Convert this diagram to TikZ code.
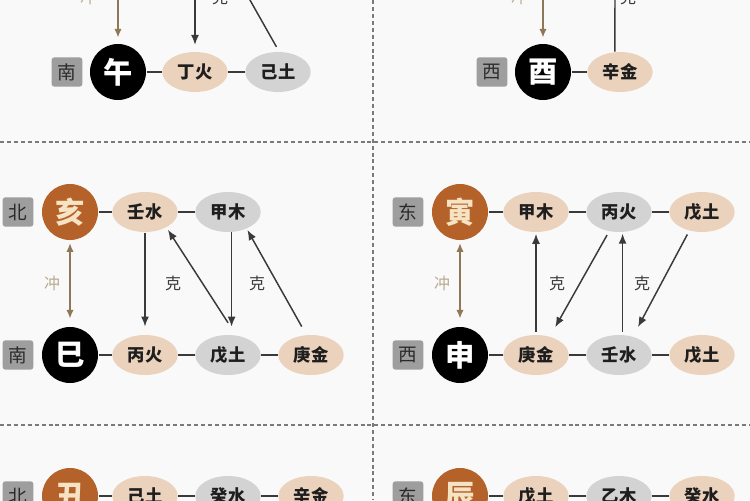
\documentclass[tikz,border=0pt]{standalone}
\usepackage{fontspec}
\newfontfamily\cjk{Noto Sans CJK SC}
\usetikzlibrary{arrows.meta,shapes.geometric}

\definecolor{clrbg}{HTML}{F9F9F9}
\definecolor{clrbox}{HTML}{9E9E9E}
\definecolor{clrboxtext}{HTML}{2B2B2B}
\definecolor{clrbrown}{HTML}{B4622A}
\definecolor{clrbrowntext}{HTML}{F6E3C4}
\definecolor{clrbeige}{HTML}{EBD2BC}
\definecolor{clrgrey}{HTML}{D3D3D3}
\definecolor{clrstemtext}{HTML}{1E1E1E}
\definecolor{clrchong}{HTML}{8E7857}
\definecolor{clrchongtext}{HTML}{B9AA90}
\definecolor{clrline}{HTML}{3A3A3A}
\definecolor{clrdash}{HTML}{7A7A7A}

\tikzset{every picture/.style={line width=0.75pt}}
\tikzset{
  dirbox/.style={fill=clrbox, rounded corners=2pt, minimum width=23pt, minimum height=22pt, inner sep=0pt, text=clrboxtext, font=\cjk\fontsize{14}{14}\selectfont},
  branchnode/.style={circle, minimum size=42pt, inner sep=0pt, font=\cjk\bfseries\fontsize{22}{22}\selectfont},
  blackbr/.style={branchnode, fill=black, text=white},
  brownbr/.style={branchnode, fill=clrbrown, text=clrbrowntext},
  stemnode/.style={ellipse, minimum width=49pt, minimum height=30pt, inner sep=0pt, text=clrstemtext, font=\cjk\bfseries\fontsize{13}{13}\selectfont},
  beigestem/.style={stemnode, fill=clrbeige},
  greystem/.style={stemnode, fill=clrgrey},
  joinline/.style={draw=clrline, line width=1.2pt},
  kearrow/.style={draw=clrline, line width=1.1pt, -{Latex[length=7.5pt,width=6pt]}},
  chongarrow/.style={draw=clrchong, line width=1.1pt, {Latex[length=6.5pt,width=5.5pt]}-{Latex[length=6.5pt,width=5.5pt]}},
  kelabel/.style={inner sep=0.75pt, text=clrline, font=\cjk\fontsize{12}{12}\selectfont},
  chonglabel/.style={inner sep=0.75pt, text=clrchongtext, font=\cjk\fontsize{12}{12}\selectfont},
  divider/.style={draw=clrdash, line width=0.9pt, dash pattern=on 3pt off 2.2pt}
}

\begin{document}
\begin{tikzpicture}[x=0.75pt,y=0.75pt,yscale=-1,xscale=1]
\useasboundingbox (0,0) rectangle (750,500);
\clip (0,0) rectangle (750,500);
\fill [clrbg] (0,0) rectangle (750,500);

%Dashed dividers
\draw [divider] (373,0) -- (373,500);
\draw [divider] (0,142) -- (750,142);
\draw [divider] (0,425) -- (750,425);

% Top left: wu row
\draw (67,72) node [dirbox] (dirnan1) {南};
\draw (118,72) node [blackbr] (wu) {午};
\draw (195,72) node [beigestem] (dinghuo1) {丁火};
\draw (278,72) node [greystem] (jitu1) {己土};
\coordinate (zi) at (118,-20);
\coordinate (keA) at (195,-20);
\coordinate (keB) at (233,-30);
\draw (88,-3) node [chonglabel] (chongA) {冲};
\draw (220,-3) node [kelabel] (keAlabel) {克};

%Straight Lines
\draw [joinline] (wu) -- (dinghuo1);
\draw [joinline] (dinghuo1) -- (jitu1);
\draw [chongarrow, shorten >=4.5pt] (zi) -- (wu);
\draw [kearrow, shorten >=5pt] (keA) -- (dinghuo1);
\draw [kearrow, shorten <=4pt] (jitu1.87) -- (keB);

% Top right: you row
\draw (492,72) node [dirbox] (dirxi1) {西};
\draw (543,72) node [blackbr] (you) {酉};
\draw (620,72) node [beigestem] (xinjin1) {辛金};
\coordinate (mao) at (543,-20);
\coordinate (keC) at (615,-30);
\draw (519,-3) node [chonglabel] (chongB) {冲};
\draw (628,-3) node [kelabel] (keClabel) {克};

%Straight Lines
\draw [joinline] (you) -- (xinjin1);
\draw [chongarrow, shorten >=4.5pt] (mao) -- (you);
\draw [kearrow] (xinjin1.104) -- (keC);

% Middle left: hai / si
\draw (18,212) node [dirbox] (dirbei1) {北};
\draw (70,212) node [brownbr] (hai) {亥};
\draw (145,212) node [beigestem] (renshui1) {壬水};
\draw (228,212) node [greystem] (jiamu1) {甲木};
\draw (18,355) node [dirbox] (dirnan2) {南};
\draw (70,355) node [blackbr] (si) {巳};
\draw (145,355) node [beigestem] (binghuo1) {丙火};
\draw (228,355) node [greystem] (wutu1) {戊土};
\draw (311,355) node [beigestem] (gengjin1) {庚金};
\draw (52,283) node [chonglabel] (chongC) {冲};
\draw (173,283) node [kelabel] (keD) {克};
\draw (257,283) node [kelabel] (keE) {克};

%Straight Lines
\draw [joinline] (hai) -- (renshui1);
\draw [joinline] (renshui1) -- (jiamu1);
\draw [joinline] (si) -- (binghuo1);
\draw [joinline] (binghuo1) -- (wutu1);
\draw [joinline] (wutu1) -- (gengjin1);
\draw [chongarrow, shorten <=2pt, shorten >=6pt] (hai) -- (si);
\draw [kearrow, shorten >=6pt] (renshui1.south) -- (binghuo1.north);
\draw [kearrow, shorten >=6pt] (jiamu1.-80) -- (wutu1.80);
\draw [kearrow, shorten <=11pt, shorten >=2pt] (wutu1.68) -- (renshui1.-36);
\draw [kearrow, shorten <=7pt, shorten >=1pt] (gengjin1.103) -- (jiamu1.-42);

% Middle right: yin / shen
\draw (408,212) node [dirbox] (dirdong1) {东};
\draw (460,212) node [brownbr] (yin) {寅};
\draw (536,212) node [beigestem] (jiamu2) {甲木};
\draw (619,212) node [greystem] (binghuo2) {丙火};
\draw (702,212) node [beigestem] (wutu2) {戊土};
\draw (408,355) node [dirbox] (dirxi2) {西};
\draw (460,355) node [blackbr] (shen) {申};
\draw (536,355) node [beigestem] (gengjin2) {庚金};
\draw (619,355) node [greystem] (renshui2) {壬水};
\draw (702,355) node [beigestem] (wutu3) {戊土};
\draw (442,283) node [chonglabel] (chongD) {冲};
\draw (557,283) node [kelabel] (keF) {克};
\draw (642,283) node [kelabel] (keG) {克};

%Straight Lines
\draw [joinline] (yin) -- (jiamu2);
\draw [joinline] (jiamu2) -- (binghuo2);
\draw [joinline] (binghuo2) -- (wutu2);
\draw [joinline] (shen) -- (gengjin2);
\draw [joinline] (gengjin2) -- (renshui2);
\draw [joinline] (renshui2) -- (wutu3);
\draw [chongarrow, shorten <=2pt, shorten >=6pt] (yin) -- (shen);
\draw [kearrow, shorten <=2pt, shorten >=1pt] (gengjin2.north) -- (jiamu2.south);
\draw [kearrow, shorten <=3pt, shorten >=8pt] (binghuo2.-117) -- (gengjin2.53);
\draw [kearrow, shorten <=2pt, shorten >=1pt] (renshui2.80) -- (binghuo2.-80);
\draw [kearrow, shorten <=3pt, shorten >=8pt] (wutu2.-124) -- (renshui2.53);

% Bottom left: chou
\draw (18,496) node [dirbox] (dirbei2) {北};
\draw (70,496) node [brownbr] (chou) {丑};
\draw (145,496) node [beigestem] (jitu2) {己土};
\draw (228,496) node [greystem] (guishui1) {癸水};
\draw (311,496) node [beigestem] (xinjin2) {辛金};

%Straight Lines
\draw [joinline] (chou) -- (jitu2);
\draw [joinline] (jitu2) -- (guishui1);
\draw [joinline] (guishui1) -- (xinjin2);

% Bottom right: chen
\draw (408,496) node [dirbox] (dirdong2) {东};
\draw (460,496) node [brownbr] (chen) {辰};
\draw (536,496) node [beigestem] (wutu4) {戊土};
\draw (619,496) node [greystem] (yimu) {乙木};
\draw (702,496) node [beigestem] (guishui2) {癸水};

%Straight Lines
\draw [joinline] (chen) -- (wutu4);
\draw [joinline] (wutu4) -- (yimu);
\draw [joinline] (yimu) -- (guishui2);

\end{tikzpicture}
\end{document}
